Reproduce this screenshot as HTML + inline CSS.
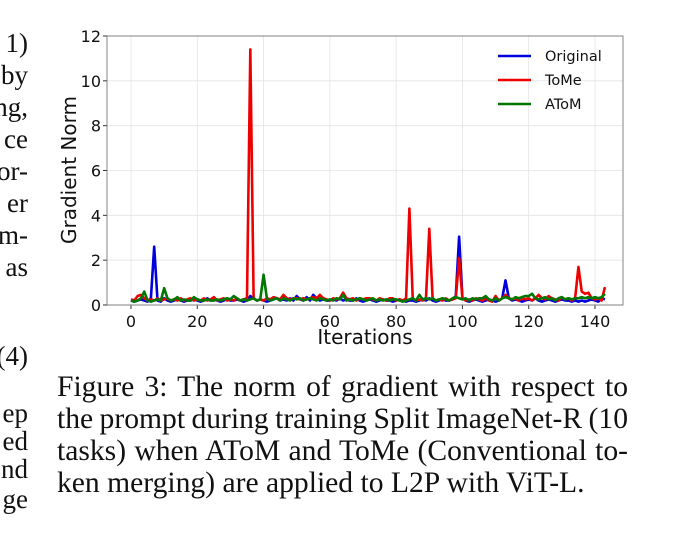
<!DOCTYPE html>
<html><head><meta charset="utf-8"><style>
body{margin:0;width:683px;height:533px;background:#fff;overflow:hidden;position:relative;font-family:"Liberation Serif",serif;}
.t{position:absolute;font-size:27px;color:#111;white-space:nowrap;line-height:1;}
.cl{display:block;text-align:justify;text-align-last:justify;white-space:nowrap;}
</style></head><body>
<div>
<div class="t" style="right:655px;top:30px">1)</div>
<div class="t" style="right:655px;top:62px">by</div>
<div class="t" style="right:655px;top:94px">ng,</div>
<div class="t" style="right:655px;top:126px">ce</div>
<div class="t" style="right:655px;top:158px">or-</div>
<div class="t" style="right:655px;top:190px">er</div>
<div class="t" style="right:655px;top:222px">m-</div>
<div class="t" style="right:655px;top:254px">as</div>
<div class="t" style="right:655px;top:343px">(4)</div>
<div class="t" style="right:655px;top:400px">ep</div>
<div class="t" style="right:655px;top:428px">ed</div>
<div class="t" style="right:655px;top:456px">nd</div>
<div class="t" style="right:655px;top:486px">ge</div>
</div>
<div style="position:absolute;left:57px;top:371px;width:571px;font-size:29.6px;line-height:32px;color:#111">
<span class="cl" style="word-spacing:-1px">Figure 3: The norm of gradient with respect to</span>
<span class="cl" style="word-spacing:-3px">the prompt during training Split ImageNet-R (10</span>
<span class="cl" style="word-spacing:-2px">tasks) when AToM and ToMe (Conventional to-</span>
<span style="display:block;white-space:nowrap">ken merging) are applied to L2P with ViT-L.</span>
</div>
<svg id="c" width="683" height="533" style="position:absolute;left:0;top:0" font-family="DejaVu Sans, sans-serif"></svg>
<script>
const xTicks=[0,20,40,60,80,100,120,140];
const yTicks=[0,2,4,6,8,10,12];
const original=[0.2,0.15,0.2,0.25,0.2,0.15,0.3,2.6,0.2,0.15,0.3,0.2,0.15,0.2,0.25,0.2,0.15,0.2,0.2,0.25,0.2,0.15,0.2,0.3,0.2,0.25,0.2,0.15,0.2,0.25,0.2,0.2,0.25,0.2,0.15,0.2,0.4,0.3,0.2,0.25,0.2,0.15,0.2,0.25,0.3,0.2,0.25,0.2,0.3,0.2,0.4,0.25,0.2,0.35,0.2,0.45,0.3,0.2,0.25,0.2,0.2,0.25,0.2,0.3,0.2,0.25,0.2,0.2,0.3,0.2,0.15,0.2,0.25,0.2,0.15,0.2,0.25,0.2,0.2,0.15,0.2,0.25,0.2,0.15,0.2,0.2,0.15,0.2,0.25,0.2,0.3,0.2,0.15,0.2,0.25,0.2,0.2,0.25,0.4,3.05,0.3,0.2,0.15,0.2,0.25,0.2,0.15,0.2,0.25,0.2,0.15,0.2,0.3,1.1,0.3,0.2,0.25,0.2,0.15,0.2,0.25,0.2,0.3,0.2,0.15,0.2,0.25,0.2,0.15,0.2,0.25,0.2,0.2,0.15,0.2,0.15,0.2,0.15,0.2,0.25,0.2,0.15,0.3,0.25];
const tome=[0.25,0.2,0.4,0.45,0.3,0.2,0.25,0.2,0.3,0.2,0.25,0.3,0.2,0.25,0.2,0.3,0.2,0.25,0.3,0.2,0.25,0.2,0.3,0.2,0.25,0.35,0.2,0.25,0.3,0.2,0.25,0.2,0.3,0.2,0.25,0.3,11.4,0.3,0.2,0.25,0.2,0.3,0.25,0.35,0.3,0.25,0.45,0.3,0.25,0.3,0.3,0.25,0.3,0.25,0.3,0.35,0.3,0.45,0.3,0.25,0.2,0.3,0.25,0.3,0.55,0.3,0.25,0.3,0.2,0.3,0.25,0.3,0.3,0.25,0.2,0.3,0.25,0.2,0.3,0.3,0.2,0.25,0.2,0.3,4.3,0.3,0.2,0.25,0.2,0.3,3.4,0.3,0.2,0.25,0.2,0.3,0.2,0.25,0.3,2.1,0.3,0.2,0.25,0.2,0.3,0.25,0.2,0.3,0.2,0.15,0.4,0.2,0.3,0.45,0.3,0.25,0.3,0.2,0.3,0.25,0.3,0.2,0.3,0.45,0.3,0.25,0.4,0.3,0.25,0.2,0.35,0.25,0.3,0.2,0.3,1.7,0.6,0.5,0.55,0.3,0.25,0.3,0.2,0.8];
const atom=[0.2,0.15,0.2,0.3,0.6,0.2,0.15,0.2,0.25,0.2,0.75,0.3,0.2,0.25,0.35,0.2,0.25,0.2,0.2,0.35,0.25,0.2,0.2,0.25,0.2,0.2,0.25,0.2,0.25,0.3,0.25,0.4,0.3,0.2,0.25,0.2,0.25,0.3,0.2,0.25,1.35,0.3,0.2,0.25,0.3,0.2,0.3,0.25,0.2,0.3,0.25,0.3,0.2,0.25,0.3,0.25,0.2,0.3,0.25,0.2,0.25,0.2,0.3,0.25,0.45,0.2,0.25,0.2,0.25,0.3,0.25,0.2,0.25,0.3,0.2,0.25,0.2,0.25,0.2,0.25,0.25,0.2,0.15,0.2,0.25,0.3,0.2,0.45,0.25,0.3,0.25,0.3,0.2,0.25,0.3,0.25,0.2,0.3,0.35,0.3,0.25,0.3,0.2,0.3,0.25,0.3,0.3,0.4,0.25,0.2,0.3,0.2,0.3,0.35,0.3,0.25,0.35,0.3,0.35,0.4,0.4,0.5,0.3,0.25,0.3,0.35,0.25,0.3,0.2,0.3,0.35,0.25,0.3,0.25,0.3,0.3,0.35,0.3,0.35,0.3,0.35,0.3,0.35,0.5];
const seriesNames=["Original","ToMe","AToM"];
const seriesColors=["#0000dd","#ee0000","#007700"];
const svg=document.getElementById('c');
const NS='http://www.w3.org/2000/svg';
const L=107,R=623,T=36,B=305;
const X=v=>131+(v-0)*(595-131)/140;
const Y=v=>B-v*(B-T)/12;
function mk(tag,a,p){const e=document.createElementNS(NS,tag);for(const k in a)e.setAttribute(k,a[k]);(p||svg).appendChild(e);return e;}
xTicks.forEach(v=>{
 const g=mk('line',{x1:X(v),x2:X(v),y1:T,y2:B,stroke:'#e4e4e4','stroke-width':0.8});
 
 const tk=mk('line',{x1:X(v),x2:X(v),y1:B,y2:B+4,stroke:'#333'});
 
 const t=mk('text',{x:X(v),y:B+22,'text-anchor':'middle','font-size':16,fill:'#111'});t.textContent=v;
 
});
yTicks.forEach(v=>{
 const g=mk('line',{x1:L,x2:R,y1:Y(v),y2:Y(v),stroke:'#e4e4e4','stroke-width':0.8});
 
 const tk=mk('line',{x1:L-4,x2:L,y1:Y(v),y2:Y(v),stroke:'#333'});
 
 const t=mk('text',{x:L-6,y:Y(v)+6,'text-anchor':'end','font-size':16,fill:'#111'});t.textContent=v;
 
});
[original,tome,atom].forEach((d,i)=>{
 const p=mk('polyline',{points:d.map((v,j)=>X(j)+','+Y(v)).join(' '),fill:'none',stroke:seriesColors[i],'stroke-width':2.6,'stroke-linejoin':'round'});
 
});
const fr=mk('rect',{x:L,y:T,width:R-L,height:B-T,fill:'none',stroke:'#666','stroke-width':0.8});

seriesNames.forEach((n,i)=>{
 const y=56+i*24;
 const ln=mk('line',{x1:498,x2:531,y1:y,y2:y,stroke:seriesColors[i],'stroke-width':2.6});
 
 const t=mk('text',{x:545,y:y+5,'font-size':14.5,fill:'#111'});t.textContent=n;
 
});
const xl=mk('text',{x:365,y:344,'text-anchor':'middle','font-size':20,fill:'#111'});xl.textContent='Iterations';

const yl=mk('text',{x:0,y:0,'text-anchor':'middle','font-size':20,fill:'#111',transform:'translate(76,170) rotate(-90)'});yl.textContent='Gradient Norm';

</script>
</body></html>
